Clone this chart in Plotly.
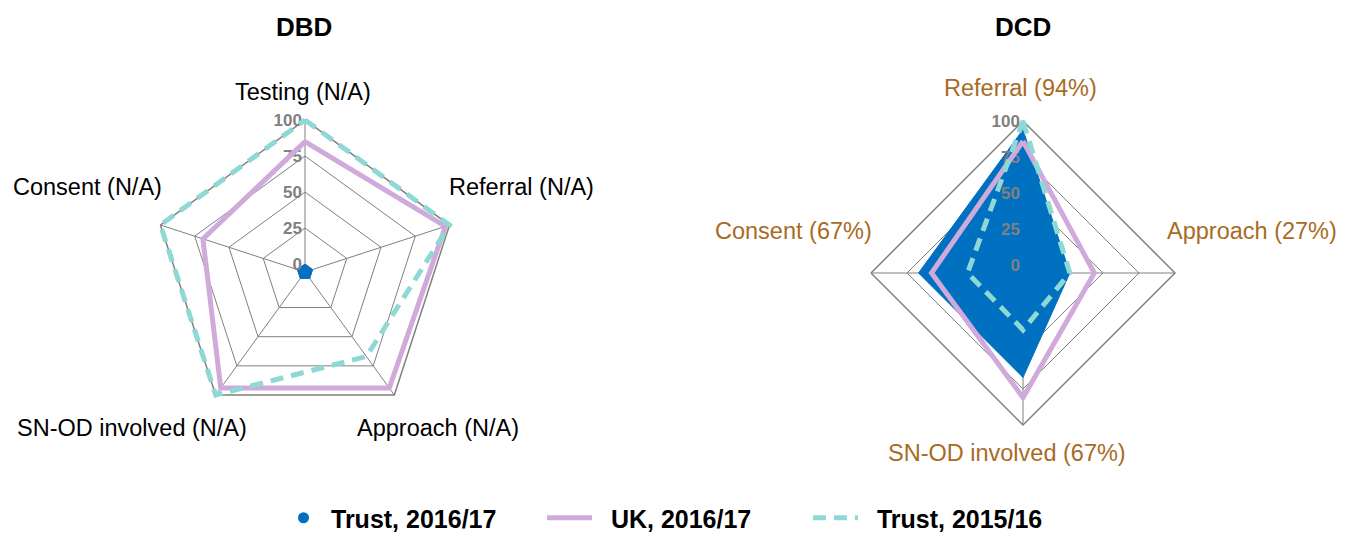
import plotly.graph_objects as go

# ---- data ----
dbd_categories = ["Testing (N/A)", "Referral (N/A)", "Approach (N/A)", "SN-OD involved (N/A)", "Consent (N/A)"]
dbd_trust_1617 = [0, 0, 0, 0, 0]
dbd_uk_1617 = [85, 97, 94, 94, 69]
dbd_trust_1516 = [100, 100, 67, 100, 100]

dcd_categories = ["Referral (94%)", "Approach (27%)", "SN-OD involved (67%)", "Consent (67%)"]
dcd_trust_1617 = [94, 27, 67, 67]
dcd_uk_1617 = [86, 44, 81, 58]
dcd_trust_1516 = [100, 27, 34, 33]

series_names = ["Trust, 2016/17", "UK, 2016/17", "Trust, 2015/16"]
radial_ticks = [0, 25, 50, 75, 100]

# ---- styles ----
BLUE = "#0070C0"
PURPLE = "#CFAADB"
TEAL = "#8ED9D5"
GRID = "#808080"
FONT = "Liberation Sans, Arial, sans-serif"
BROWN = "#A86B24"
DASH = "13px,8px"
RANGE = [-5.5, 100]
LINE_RANGE = [-5.5, 110]  # overlay subplot: wider range so lines at 100 are not clipped


def closed(vals):
    return list(vals) + [vals[0]]


fig = go.Figure()

# filled series on the grid subplots (grid drawn over the fill), lines on overlay subplots
for grid_sp, line_sp, cats, t17, uk, t16 in [
    ("polar", "polar3", dbd_categories, dbd_trust_1617, dbd_uk_1617, dbd_trust_1516),
    ("polar2", "polar4", dcd_categories, dcd_trust_1617, dcd_uk_1617, dcd_trust_1516),
]:
    th = closed(cats)
    fig.add_trace(go.Scatterpolar(r=closed(t17), theta=th, subplot=grid_sp, mode="lines",
                                  fill="toself", fillcolor=BLUE, line=dict(color=BLUE, width=1),
                                  name=series_names[0], showlegend=False))
    fig.add_trace(go.Scatterpolar(r=closed(uk), theta=th, subplot=line_sp, mode="lines",
                                  line=dict(color=PURPLE, width=5), name=series_names[1],
                                  showlegend=False))
    fig.add_trace(go.Scatterpolar(r=closed(t16), theta=th, subplot=line_sp, mode="lines",
                                  line=dict(color=TEAL, width=5, dash=DASH),
                                  name=series_names[2], showlegend=False))

# legend entries
fig.add_trace(go.Scatterpolar(r=[None], theta=[dbd_categories[0]], subplot="polar", mode="markers",
                              marker=dict(color=BLUE, size=11), name=series_names[0]))
fig.add_trace(go.Scatterpolar(r=[None], theta=[dbd_categories[0]], subplot="polar", mode="lines",
                              line=dict(color=PURPLE, width=5), name="  " + series_names[1]))
fig.add_trace(go.Scatterpolar(r=[None], theta=[dbd_categories[0]], subplot="polar", mode="lines",
                              line=dict(color=TEAL, width=5, dash=DASH), name="  " + series_names[2]))


def grid_polar(xdom, ydom, cats):
    return dict(
        domain=dict(x=xdom, y=ydom),
        gridshape="linear",
        bgcolor="rgba(0,0,0,0)",
        radialaxis=dict(range=RANGE, tickvals=radial_ticks,
                        angle=90, side="counterclockwise", layer="above traces",
                        tickangle=90, showline=False, ticks="", gridcolor=GRID, gridwidth=1,
                        tickfont=dict(family=FONT, size=17, color="#808080", weight="bold")),
        angularaxis=dict(type="category", categoryarray=cats, rotation=90, direction="clockwise",
                         showticklabels=False, ticks="", gridcolor=GRID, gridwidth=1,
                         layer="above traces",
                         showline=True, linecolor=GRID, linewidth=1.5),
    )


def line_polar(xdom, ydom, cats):
    return dict(
        domain=dict(x=xdom, y=ydom),
        gridshape="linear",
        bgcolor="rgba(0,0,0,0)",
        radialaxis=dict(range=LINE_RANGE, visible=False, showgrid=False),
        angularaxis=dict(type="category", categoryarray=cats, rotation=90, direction="clockwise",
                         showticklabels=False, ticks="", showgrid=False, showline=False),
    )


W, H = 1350, 541
R = 152
R_LINE = R * (LINE_RANGE[1] - LINE_RANGE[0]) / (RANGE[1] - RANGE[0])


def px_dom(cx, cy, r):
    return [(cx - r) / W, (cx + r) / W], [(H - cy - r) / H, (H - cy + r) / H]


c1 = (305, 272)
c2 = (1023, 273)
x1, y1 = px_dom(*c1, R)
x2, y2 = px_dom(*c2, R)
x3, y3 = px_dom(*c1, R_LINE)
x4, y4 = px_dom(*c2, R_LINE)

annotations = []
for txt, x, y in [("DBD", 304, 27), ("DCD", 1023, 27)]:
    annotations.append(dict(text=txt, x=x / W, y=1 - y / H, xref="paper", yref="paper", showarrow=False,
                            font=dict(family=FONT, size=26, color="black", weight="bold"),
                            xanchor="center", yanchor="middle"))

dbd_label_pos = [(303, 92), (521, 187), (438, 428), (132, 428), (88, 187)]
dcd_label_pos = [(1020, 88), (1252, 231), (1007, 453), (793, 231)]
for cats, pos, col in [(dbd_categories, dbd_label_pos, "black"), (dcd_categories, dcd_label_pos, BROWN)]:
    for txt, (x, y) in zip(cats, pos):
        annotations.append(dict(text=txt, x=x / W, y=1 - y / H, xref="paper", yref="paper", showarrow=False,
                                font=dict(family=FONT, size=23.5, color=col),
                                xanchor="center", yanchor="middle"))

fig.update_layout(
    width=W, height=H,
    margin=dict(l=0, r=0, t=0, b=0),
    paper_bgcolor="white",
    plot_bgcolor="white",
    polar=grid_polar(x1, y1, dbd_categories),
    polar2=grid_polar(x2, y2, dcd_categories),
    polar3=line_polar(x3, y3, dbd_categories),
    polar4=line_polar(x4, y4, dcd_categories),
    annotations=annotations,
    showlegend=True,
    legend=dict(orientation="h", x=0.5, xanchor="center", y=0, yanchor="bottom",
                font=dict(family=FONT, size=25, color="black", weight="bold"),
                entrywidth=206, itemwidth=45, bgcolor="rgba(0,0,0,0)"),
)

fig.write_html("out.html")
